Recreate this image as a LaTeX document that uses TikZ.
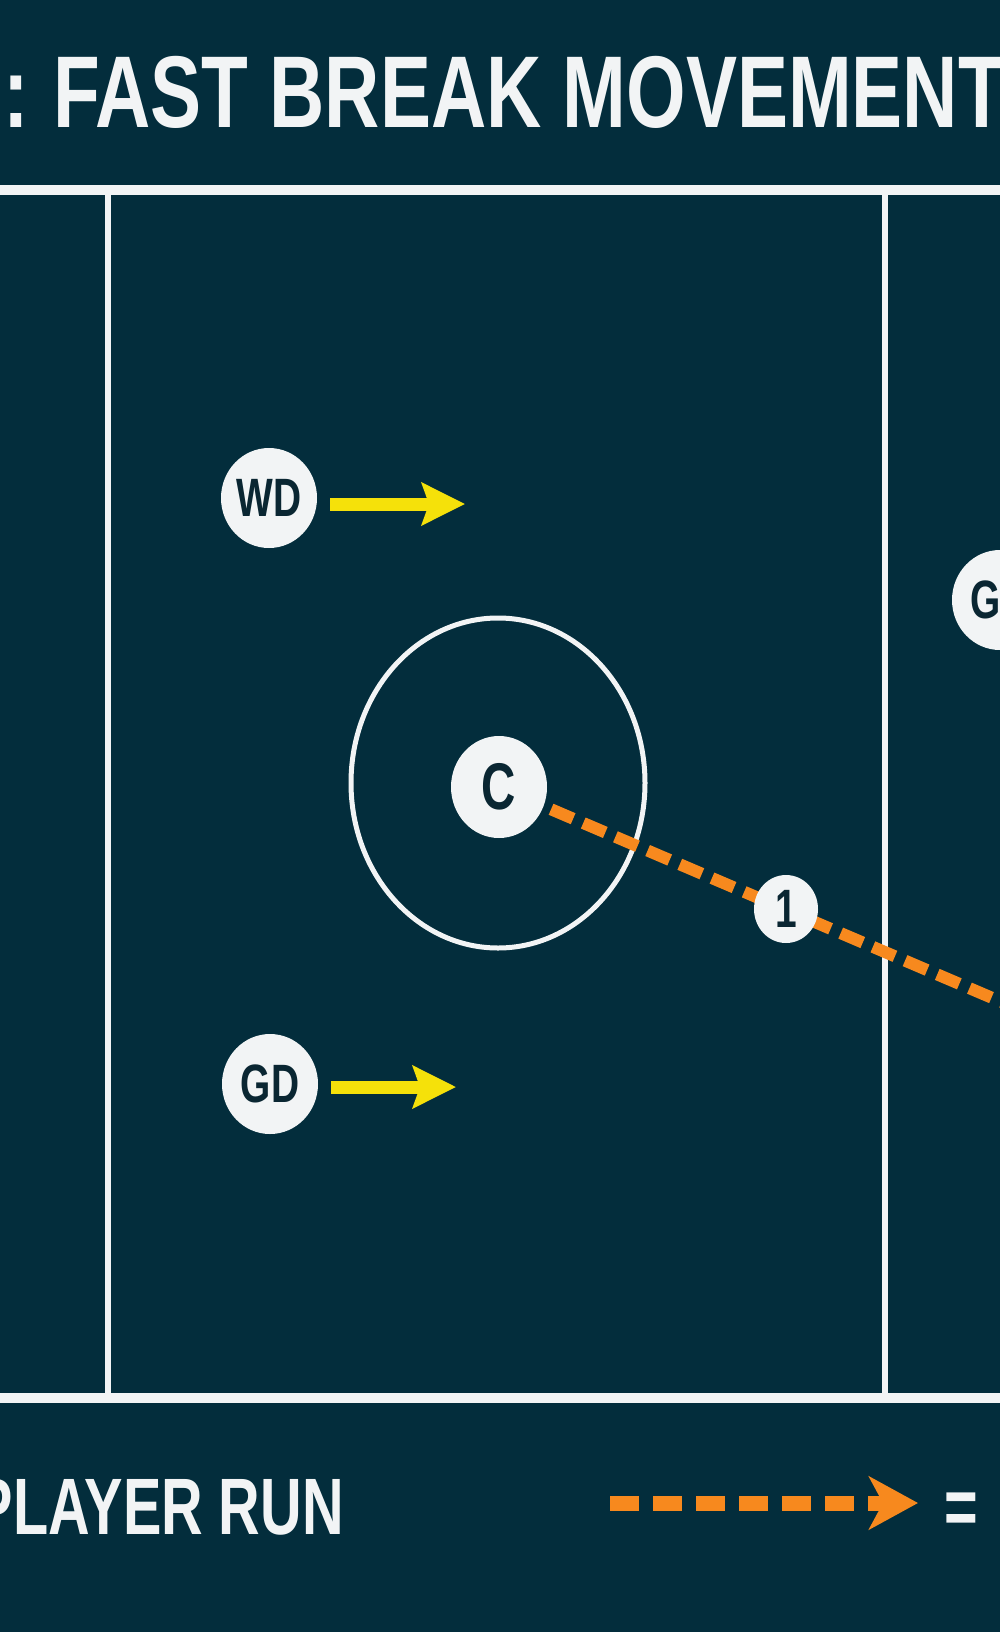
\documentclass[tikz,border=0pt]{standalone}
\usepackage{fontspec}
\usetikzlibrary{arrows.meta,shapes.geometric}
\newfontfamily\boardfont[FakeStretch=0.72]{Liberation Sans}
\newfontfamily\headfont[FakeStretch=0.75]{Liberation Sans}
\definecolor{courtbg}{RGB}{3,45,60}
\definecolor{courtline}{RGB}{242,244,245}
\definecolor{runorange}{RGB}{247,137,30}
\definecolor{moveyellow}{RGB}{245,225,10}
\definecolor{labeldark}{RGB}{10,38,50}
\begin{document}
\begin{tikzpicture}[x=1pt,y=-1pt,
  player/.style={ellipse,fill=courtline,minimum width=96pt,minimum height=100pt,inner sep=0pt,
    text=labeldark,font=\boardfont\bfseries\fontsize{54}{54}\selectfont},
  court/.style={courtline,line width=#1},
  move/.style={moveyellow,line width=13pt,shorten <=13pt,-{Stealth[length=43pt,width=42pt,inset=7pt]}},
  run/.style={runorange,line width=12pt,dash pattern=on 24pt off 11pt}]
\fill[courtbg] (0,0) rectangle (1000,1632);
\useasboundingbox (0,0) rectangle (1000,1632);
\clip (0,0) rectangle (1000,1632);
\node[anchor=base west,inner sep=0pt,text=courtline,font=\headfont\bfseries\fontsize{102}{102}\selectfont] (title) at (3,128) {:\hspace{-4pt} FAST BREAK MOVEMENT};
% court
\draw[court=10pt] (-10,190) -- (1010,190);
\draw[court=10pt] (-10,1398) -- (1010,1398);
\draw[court=6pt] (108,190) -- (108,1398);
\draw[court=6pt] (885,190) -- (885,1398);
\draw[court=5pt] (498,783) ellipse [x radius=147pt,y radius=165pt];
% players
\node[player] (WD) at (269,498) {WD};
\node[player] (GD) at (270,1084) {GD};
\node[player] (GA) at (1000,600) {GA};
\node[player,minimum width=96pt,minimum height=102pt,font=\boardfont\bfseries\fontsize{66}{66}\selectfont] (C) at (499,787) {C};
\coordinate (WDto) at (465,504);
\coordinate (GDto) at (456,1087);
\draw[move] (WD.east |- WDto) -- (WDto);
\draw[move] (GD.east |- GDto) -- (GDto);
\coordinate (runend) at (1100,1044);
\draw[run,shorten <=8pt] (C) -- (runend);
\node[player,minimum width=64pt,minimum height=68pt] (one) at (786,909) {1};
% key
\node[anchor=base east,inner sep=0pt,text=courtline,font=\boardfont\bfseries\fontsize{80}{80}\selectfont] (keytext) at (344,1534) {PLAYER RUN};
\coordinate (keyfrom) at (610,1503);
\coordinate (keyto) at (918,1503);
\draw[runorange,line width=15pt,dash pattern=on 29pt off 14pt,-{Stealth[length=49pt,width=53pt,inset=14pt]}] (keyfrom) -- (keyto);
\node[anchor=base west,inner sep=0pt,text=courtline,font=\boardfont\bfseries\fontsize{80}{80}\selectfont] (equals) at (944,1534) {=};
\end{tikzpicture}
\end{document}
